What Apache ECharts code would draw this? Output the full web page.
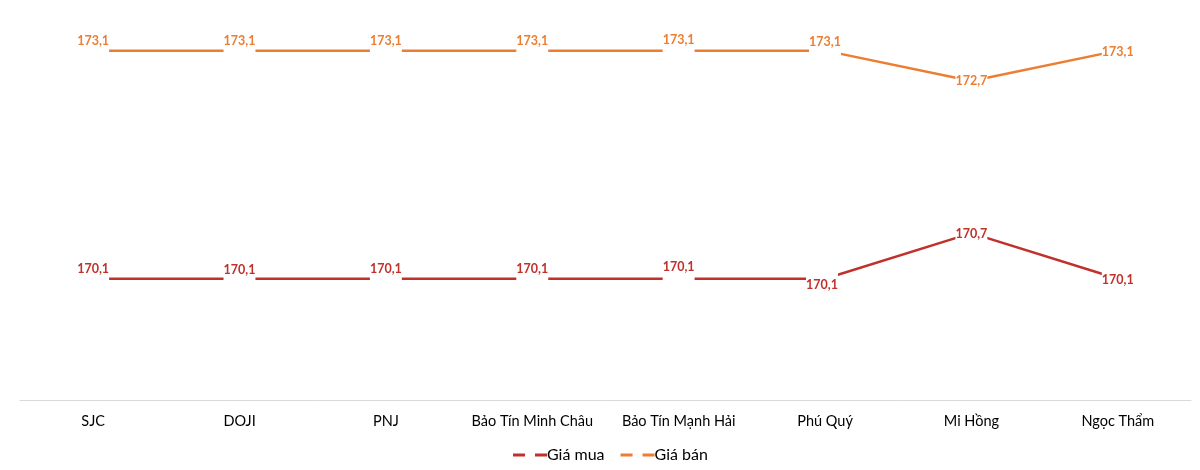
<!DOCTYPE html>
<html>
<head>
<meta charset="utf-8">
<script src="https://cdn.jsdelivr.net/npm/echarts@6/dist/echarts.min.js"></script>
<style>html,body{margin:0;padding:0;background:#fff;}#c{width:1200px;height:470px;}</style>
</head>
<body>
<div id="c"></div>
<script>
const categories = ['SJC', 'DOJI', 'PNJ', 'Bảo Tín Minh Châu', 'Bảo Tín Mạnh Hải', 'Phú Quý', 'Mi Hồng', 'Ngọc Thẩm'];
const giaMua = [170.1, 170.1, 170.1, 170.1, 170.1, 170.1, 170.7, 170.1];
const giaBan = [173.1, 173.1, 173.1, 173.1, 173.1, 173.1, 172.7, 173.1];

const muaOffsets = [[0,-10],[0,-9],[0,-10],[0,-10],[0,-12],[-3,6],[0,1],[0,1]];
const banOffsets = [[0,-10],[0,-10],[0,-10],[0,-10],[0,-11],[0,-9],[0,0],[0,1]];

const FONT = 'Lato, "Open Sans", sans-serif';
const RED = '#C0312B';
const ORANGE = '#ED7D31';

function build(values, offsets) {
  return values.map((v, i) => ({
    value: v,
    label: { position: offsets[i] }
  }));
}

function labelCfg(color) {
  return {
    show: true, position: [0, 0], align: 'center', verticalAlign: 'middle',
    color: color, fontFamily: FONT,
    fontWeight: 700, fontSize: 12.5, backgroundColor: '#fff', padding: [7, 0, 7, 0],
    formatter: p => String(p.value).replace('.', ',')
  };
}

const chart = echarts.init(document.getElementById('c'), null, { renderer: 'canvas' });
chart.setOption({
  animation: false,
  grid: { left: 20, right: 9, top: 12.6, bottom: 69.5 },
  xAxis: {
    type: 'category',
    data: categories,
    axisLine: { lineStyle: { color: '#d9d9d9', width: 1 } },
    axisTick: { show: false },
    axisLabel: { interval: 0, color: '#000', fontFamily: FONT, fontSize: 14.5, margin: 13 }
  },
  yAxis: {
    type: 'value', min: 168.5, max: 173.6,
    show: false, splitLine: { show: false }
  },
  legend: {
    bottom: 2,
    left: 508,
    itemWidth: 34, itemHeight: 3, itemGap: 16,
    icon: 'path://M0,0 h12 v3 h-12 z M22,0 h12 v3 h-12 z',
    textStyle: { color: '#000', fontFamily: FONT, fontSize: 16, padding: [0,0,0,-5] },
    data: ['Giá mua', 'Giá bán']
  },
  series: [
    {
      name: 'Giá mua', type: 'line', data: build(giaMua, muaOffsets),
      symbol: 'circle', symbolSize: 0.1, showSymbol: true, color: RED,
      itemStyle: { color: RED },
      lineStyle: { color: RED, width: 2.5 },
      label: labelCfg(RED),
      labelLayout: { hideOverlap: false }
    },
    {
      name: 'Giá bán', type: 'line', data: build(giaBan, banOffsets),
      symbol: 'circle', symbolSize: 0.1, showSymbol: true, color: ORANGE,
      itemStyle: { color: ORANGE },
      lineStyle: { color: ORANGE, width: 2.5 },
      label: labelCfg(ORANGE),
      labelLayout: { hideOverlap: false }
    }
  ]
});
</script>
</body>
</html>
